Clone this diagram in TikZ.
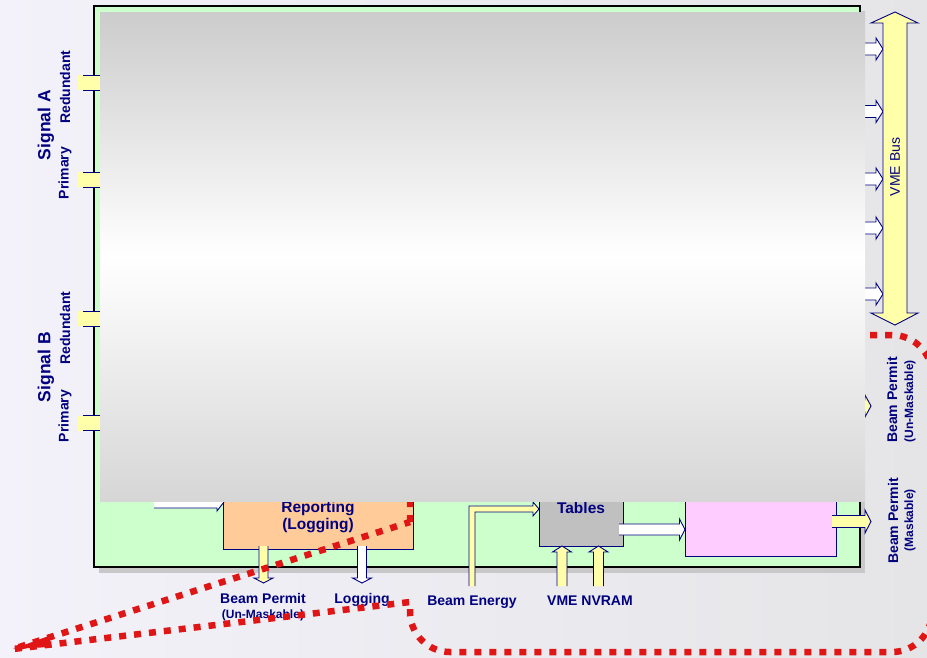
\documentclass[tikz,border=0pt]{standalone}
\usepackage{fontspec}
\setmainfont{Liberation Sans}
\definecolor{navyc}{RGB}{0,0,128}
\definecolor{greenfill}{RGB}{204,255,204}
\definecolor{pinkfill}{RGB}{255,204,255}
\definecolor{orangefill}{RGB}{255,204,153}
\definecolor{tablefill}{RGB}{192,192,192}
\definecolor{yellowfill}{RGB}{255,255,170}
\definecolor{redc}{RGB}{224,22,22}
\definecolor{shadowc}{RGB}{200,200,200}
\definecolor{bgL}{RGB}{243,242,250}
\definecolor{bgR}{RGB}{229,228,230}
\definecolor{ovTop}{RGB}{204,204,204}
\definecolor{ovBot}{RGB}{214,214,214}
% block arrows: tail, tip, position, body half, head half, head length, fill
\newcommand{\blkR}[7]{%
  \fill[#7] (#1,#3-#4) -- (#2-#6,#3-#4) -- (#2-#6,#3-#5) -- (#2,#3) -- (#2-#6,#3+#5) -- (#2-#6,#3+#4) -- (#1,#3+#4) -- cycle;
  \draw[arrline] (#1,#3-#4) -- (#2-#6,#3-#4) -- (#2-#6,#3-#5) -- (#2,#3) -- (#2-#6,#3+#5) -- (#2-#6,#3+#4) -- (#1,#3+#4);}
\newcommand{\blkD}[7]{%
  \fill[#7] (#1-#4,#2) -- (#1-#4,#3-#6) -- (#1-#5,#3-#6) -- (#1,#3) -- (#1+#5,#3-#6) -- (#1+#4,#3-#6) -- (#1+#4,#2) -- cycle;
  \draw[arrline] (#1-#4,#2) -- (#1-#4,#3-#6) -- (#1-#5,#3-#6) -- (#1,#3) -- (#1+#5,#3-#6) -- (#1+#4,#3-#6) -- (#1+#4,#2);}
\newcommand{\blkU}[7]{%
  \fill[#7] (#1-#4,#2) -- (#1-#4,#3+#6) -- (#1-#5,#3+#6) -- (#1,#3) -- (#1+#5,#3+#6) -- (#1+#4,#3+#6) -- (#1+#4,#2) -- cycle;
  \draw[arrline] (#1-#4,#2) -- (#1-#4,#3+#6) -- (#1-#5,#3+#6) -- (#1,#3) -- (#1+#5,#3+#6) -- (#1+#4,#3+#6) -- (#1+#4,#2);}
\newcommand{\stubIn}[1]{%
  \fill[yellowfill] (78,#1-7.5) rectangle (104,#1+7.5);
  \draw[arrline] (83,#1-7.5) -- (104,#1-7.5) (83,#1+7.5) -- (104,#1+7.5);}
\begin{document}
\begin{tikzpicture}[x=1pt,y=-1pt,
  arrline/.style={draw=navyc, line width=0.9pt, line join=miter},
  boxline/.style={draw=navyc, line width=1pt},
  boxtxt/.style={text=navyc, font=\bfseries\fontsize{15.5}{18}\selectfont, inner sep=0pt},
  sigl/.style={text=navyc, font=\bfseries\fontsize{17.5}{20}\selectfont, inner sep=0pt},
  subl/.style={text=navyc, font=\bfseries\fontsize{14}{16}\selectfont, inner sep=0pt},
  smalll/.style={text=navyc, font=\bfseries\fontsize{12}{14}\selectfont, inner sep=0pt},
  busl/.style={text=navyc, font=\fontsize{14}{16}\selectfont, inner sep=0pt},
  reddot/.style={draw=redc, line width=6.5pt, dash pattern=on 7pt off 8pt}]
\useasboundingbox (0,0) rectangle (927,657);
% background
\shade[left color=bgL, right color=bgR] (0,0) rectangle (927,657);
% main board with shadow
\fill[shadowc] (99,11) rectangle (865,573);
\draw[fill=greenfill, draw=black, line width=1.2pt] (94,6) rectangle (860,567);
% inner boxes
\draw[boxline, fill=orangefill] (223,460) rectangle (413,549);
\draw[boxline, fill=tablefill] (539,460) rectangle (623,546);
\draw[boxline, fill=pinkfill] (685,460) rectangle (836,556);
\node[boxtxt, anchor=base] (rep) at (318,512) {Reporting};
\node[boxtxt, anchor=base] (replog) at (318,529) {(Logging)};
\node[boxtxt, anchor=base] (tab) at (581,513) {Tables};
% input stubs
\stubIn{82.5}
\stubIn{179.5}
\stubIn{318.5}
\stubIn{423}
% internal arrows
\blkR{154}{224}{502}{6}{9}{7}{white}
\blkR{619}{685}{529.5}{5.5}{10.5}{5.5}{white}
\blkR{832}{871}{521.5}{6}{11.5}{6}{yellowfill}
\blkR{840}{871}{406}{6}{11}{6}{yellowfill}
\blkD{263.5}{546}{583}{4.5}{9.5}{5}{yellowfill}
\blkD{362}{546}{583}{4.5}{9.5}{5}{white}
\blkU{562}{586}{546}{5}{9.5}{6}{yellowfill}
\blkU{598.5}{586}{546}{5}{9.5}{6}{yellowfill}
% beam energy L-shaped arrow
\fill[yellowfill] (469,586) -- (469,506) -- (533,506) -- (533,502) -- (539,509) -- (533,516) -- (533,512) -- (475,512) -- (475,586) -- cycle;
\draw[arrline] (469,586) -- (469,506) -- (533,506) -- (533,502) -- (539,509) -- (533,516) -- (533,512) -- (475,512) -- (475,586);
% arrows to VME bus
\blkR{850}{883}{49}{6}{11}{7}{white}
\blkR{850}{883}{111.5}{6}{11}{7}{white}
\blkR{850}{883}{179}{6}{11}{7}{white}
\blkR{850}{883}{228}{6}{11}{7}{white}
\blkR{850}{883}{294}{6}{11}{7}{white}
% VME bus
\draw[arrline, fill=yellowfill] (883,23) -- (871,23) -- (895,12) -- (918,23) -- (907,23) -- (907,313) -- (918,313) -- (895,325) -- (871,313) -- (883,313) -- cycle;
\node[busl, rotate=90] (vme) at (895,167) {VME Bus};
% left labels
\node[sigl, rotate=90] (sigA) at (46,125) {Signal A};
\node[subl, rotate=90] (redA) at (65,87) {Redundant};
\node[subl, rotate=90] (priA) at (65,173) {Primary};
\node[sigl, rotate=90] (sigB) at (46,367) {Signal B};
\node[subl, rotate=90] (redB) at (65,328) {Redundant};
\node[subl, rotate=90] (priB) at (65,416) {Primary};
% right labels
\node[subl, rotate=90] (bpu) at (892,400) {Beam Permit};
\node[smalll, rotate=90] (bpu2) at (910,401) {(Un-Maskable)};
\node[subl, rotate=90] (bpm) at (893,521) {Beam Permit};
\node[smalll, rotate=90] (bpm2) at (910,520) {(Maskable)};
% bottom labels
\node[subl, anchor=base] (bp) at (263,603) {Beam Permit};
\node[smalll, anchor=base] (bp2) at (263,618) {(Un-Maskable)};
\node[subl, anchor=base] (lg) at (362,603) {Logging};
\node[subl, anchor=base] (be) at (472,605) {Beam Energy};
\node[subl, anchor=base] (vn) at (590,605) {VME NVRAM};
% red dotted callout
\draw[reddot] (410,522) -- (410,375) .. controls (410,353) and (428,335) .. (450,335)
  -- (892,335) .. controls (914,335) and (932,353) .. (932,375)
  -- (932,612) .. controls (932,634) and (914,652) .. (892,652)
  -- (450,652) .. controls (428,652) and (410,634) .. (410,612)
  -- (410,602) -- (13,649) -- cycle;
\fill[redc] (13,649) -- (50,635.5) -- (50,647) -- cycle;
% gray overlay
\shade[top color=ovTop, bottom color=ovBot, middle color=white] (100,12) rectangle (865,501);
\end{tikzpicture}
\end{document}
